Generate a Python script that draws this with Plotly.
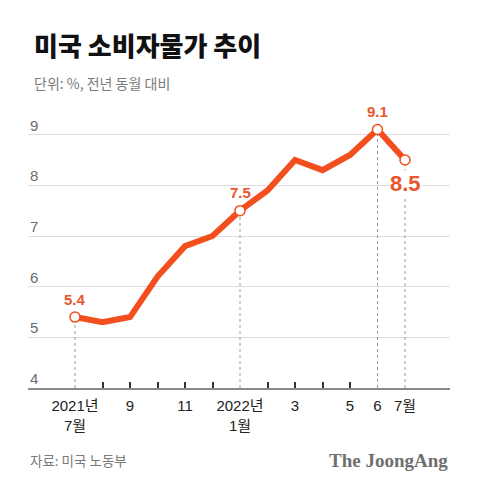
import plotly.graph_objects as go

months = list(range(13))  # Jul 2021 .. Jul 2022
cpi = [5.4, 5.3, 5.4, 6.2, 6.8, 7.0, 7.5, 7.9, 8.5, 8.3, 8.6, 9.1, 8.5]
label_idx = [0, 2, 4, 6, 8, 10, 11, 12]
label_text = ["2021년<br>7월", "9", "11", "2022년<br>1월", "3", "5", "6", "7월"]
minor_idx = [1, 2, 3, 4, 5, 7, 8, 9, 10]
highlight_idx = [0, 6, 11, 12]
y_grid = [5, 6, 7, 8, 9]

ORANGE = "#F24E1E"
TXT_OR = "#E8562E"
FONT = "Liberation Sans, Noto Sans CJK KR, sans-serif"
KFONT = "Noto Sans CJK KR, sans-serif"

fig = go.Figure()

# dotted drop lines
for i in highlight_idx:
    fig.add_trace(go.Scatter(x=[months[i], months[i]], y=[4, cpi[i]], mode="lines",
                             line=dict(color="#9a9a9a", width=1, dash="dot"),
                             hoverinfo="skip", showlegend=False))

fig.add_trace(go.Scatter(x=months, y=cpi, mode="lines",
                         line=dict(color=ORANGE, width=6), showlegend=False))

fig.add_trace(go.Scatter(x=[months[i] for i in highlight_idx],
                         y=[cpi[i] for i in highlight_idx], mode="markers",
                         marker=dict(size=10, color="white", line=dict(color=ORANGE, width=1.5)),
                         showlegend=False, cliponaxis=False))

# value labels
for i, dy, size in [(0, 18, 15), (6, 18, 15), (11, 18, 15)]:
    fig.add_annotation(x=months[i], y=cpi[i], text=f"<b>{cpi[i]}</b>", showarrow=False,
                       yshift=dy, font=dict(size=size, color=TXT_OR, family=FONT))
fig.add_annotation(x=months[12], y=cpi[12], text=f"<b>{cpi[12]}</b>", showarrow=False,
                   yshift=-23, font=dict(size=22, color=TXT_OR, family=FONT),
                   bgcolor="white", borderpad=0)

# y tick labels above gridlines
for v in y_grid + [4]:
    fig.add_annotation(x=0, xref="paper", xanchor="left", y=v, yanchor="bottom",
                       text=str(v), showarrow=False, yshift=-1,
                       font=dict(size=15, color="#6b6b6b", family=FONT))

# title / subtitle / footer
fig.add_annotation(x=0.0095, xref="paper", xanchor="left", y=1.237, yref="paper", yanchor="middle",
                   text="미국 소비자물가 추이", showarrow=False,
                   font=dict(size=26, color="#111111", family=KFONT, weight=900))
fig.add_annotation(x=0.0095, xref="paper", xanchor="left", y=1.097, yref="paper", yanchor="middle",
                   text="단위: %, 전년 동월 대비", showarrow=False,
                   font=dict(size=14, color="#7a7a7a", family=KFONT))
fig.add_annotation(x=0, xref="paper", xanchor="left", y=-0.259, yref="paper", yanchor="middle",
                   text="자료: 미국 노동부", showarrow=False,
                   font=dict(size=13.5, color="#7a7a7a", family=KFONT))
fig.add_annotation(x=1, xref="paper", xanchor="right", y=-0.259, yref="paper", yanchor="middle",
                   text="<b>The JoongAng</b>", showarrow=False,
                   font=dict(size=19, color="#6f6f6f", family="Liberation Serif, serif"))

fig.update_layout(
    width=472, height=480,
    margin=dict(l=20, r=30, t=102, b=100),
    paper_bgcolor="white", plot_bgcolor="white",
    xaxis=dict(range=[-1.709, 13.636], showgrid=False, zeroline=False,
               tickvals=label_idx, ticktext=label_text, ticks="",
               tickfont=dict(size=15, color="#222222", family=FONT),
               ticklabelstandoff=3,
               showline=True, linecolor="#8a8a8a", linewidth=2,
               minor=dict(tickvals=minor_idx, ticks="inside", ticklen=6,
                          tickcolor="#333333", tickwidth=1.5, showgrid=False)),
    yaxis=dict(range=[4, 9.487], tickvals=y_grid, showticklabels=False,
               showgrid=True, gridcolor="#dddddd", gridwidth=1, zeroline=False,
               showline=False),
    showlegend=False,
)

fig.write_html("out.html")
